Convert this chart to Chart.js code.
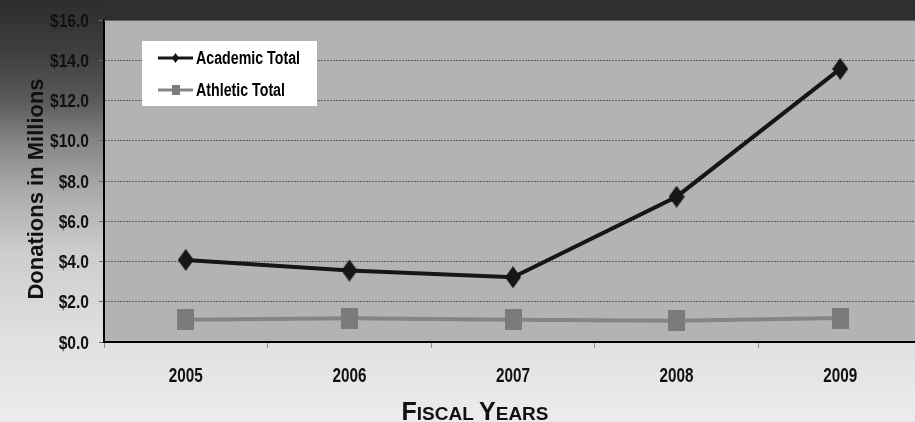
<!DOCTYPE html>
<html><head><meta charset="utf-8">
<script src="https://cdn.jsdelivr.net/npm/chart.js@4.4.1/dist/chart.umd.min.js"></script>
<style>
html,body{margin:0;padding:0;overflow:hidden;width:915px;height:422px;background:#ececec}
#wrap{position:relative;width:922px;height:422px}
canvas{display:block}
</style></head>
<body><div id="wrap"><canvas id="c" width="922" height="422"></canvas></div>
<script>
const years = ['2005', '2006', '2007', '2008', '2009'];
const academicTotal = [4.08, 3.55, 3.22, 7.22, 13.57];
const athleticTotal = [1.1, 1.18, 1.1, 1.05, 1.19];
const seriesNames = ['Academic Total', 'Athletic Total'];
const yAxisTitle = 'Donations in Millions';
const xAxisTitle = 'Fiscal Years';

const SANS = "'Liberation Sans',Arial,sans-serif";

function makeMarker(w, h, color, shape) {
  const c = document.createElement('canvas');
  c.width = w; c.height = h;
  const x = c.getContext('2d');
  x.fillStyle = color;
  if (shape === 'diamond') {
    x.beginPath(); x.moveTo(w / 2, 0); x.lineTo(w, h / 2); x.lineTo(w / 2, h); x.lineTo(0, h / 2); x.closePath(); x.fill();
  } else {
    x.fillRect(0, 0, w, h);
  }
  return c;
}
const ACAD = '#161616', ATH = '#858585', ATH_M = '#7b7b7b';
const diamondBig = makeMarker(16, 22, ACAD, 'diamond');
const squareBig = makeMarker(17, 21, ATH_M, 'square');

// draw condensed text (squeezed horizontally by factor f)
function condText(ctx, text, x, y, f) {
  const w = ctx.measureText(text).width;
  ctx.fillText(text, x, y, w * f);
}
function factorFor(ctx, font, sample, target) {
  ctx.font = font;
  return Math.min(1, target / ctx.measureText(sample).width);
}

const bgPlugin = {
  id: 'bg',
  beforeDraw(chart) {
    const { ctx, width, height, chartArea: a } = chart;
    const g = ctx.createLinearGradient(0, 0, 0, height);
    g.addColorStop(0, '#2d2d2d');
    g.addColorStop(0.12, '#3e3e3e');
    g.addColorStop(0.24, '#5a5a5a');
    g.addColorStop(0.33, '#838383');
    g.addColorStop(0.45, '#aaaaaa');
    g.addColorStop(0.6, '#cdcdcd');
    g.addColorStop(0.8, '#e0e0e0');
    g.addColorStop(1, '#ececec');
    ctx.save();
    ctx.fillStyle = g; ctx.fillRect(0, 0, width, height);
    ctx.fillStyle = '#2f2f2f'; ctx.fillRect(a.left, 0, width - a.left, a.top);
    ctx.fillStyle = '#b3b3b3'; ctx.fillRect(a.left, a.top, a.right - a.left, a.bottom - a.top);
    ctx.restore();
  },
  afterDraw(chart) {
    const { ctx, chartArea: a } = chart;
    const ds = chart.data.datasets;
    const xs = chart.scales.x, ys = chart.scales.y;
    ctx.save();
    // top edge
    ctx.strokeStyle = '#666'; ctx.lineWidth = 1;
    ctx.beginPath(); ctx.moveTo(a.left, a.top + 0.5); ctx.lineTo(a.right, a.top + 0.5); ctx.stroke();

    // y tick labels (condensed bold)
    ctx.fillStyle = '#111';
    const yFont = 'bold 19px ' + SANS;
    const fy = factorFor(ctx, yFont, '$16.0', 39);
    ctx.font = yFont; ctx.textAlign = 'right'; ctx.textBaseline = 'alphabetic';
    ys.ticks.forEach((t, i) => {
      condText(ctx, t.label, a.left - 15, ys.getPixelForTick(i) + 6.5, fy);
    });
    // x tick labels
    const xFont = 'bold 20px ' + SANS;
    const fx = factorFor(ctx, xFont, '2009', 34);
    ctx.font = xFont; ctx.textAlign = 'center';
    xs.ticks.forEach((t, i) => {
      condText(ctx, xs.getLabelForValue(t.value), xs.getPixelForTick(i), a.bottom + 40, fx);
    });

    // legend
    ctx.fillStyle = '#ffffff';
    ctx.fillRect(142, 41, 175, 65);
    const rows = [58, 90];
    const lFont = 'bold 18px ' + SANS;
    const fl = factorFor(ctx, lFont, 'Academic Total', 104);
    ds.forEach((d, i) => {
      const y = rows[i];
      ctx.strokeStyle = d.borderColor; ctx.lineWidth = 3;
      ctx.beginPath(); ctx.moveTo(158, y); ctx.lineTo(193, y); ctx.stroke();
      ctx.fillStyle = d.backgroundColor;
      if (i === 0) {
        ctx.beginPath(); ctx.moveTo(175.5, y - 5); ctx.lineTo(179, y); ctx.lineTo(175.5, y + 5); ctx.lineTo(172, y); ctx.closePath(); ctx.fill();
      } else {
        ctx.fillRect(172, y - 5, 8, 10);
      }
      ctx.fillStyle = '#000';
      ctx.font = lFont;
      ctx.textBaseline = 'alphabetic'; ctx.textAlign = 'left';
      condText(ctx, d.label, 196, y + 6, fl);
    });
    // y title
    ctx.translate(37, 189);
    ctx.rotate(-Math.PI / 2);
    ctx.fillStyle = '#111';
    ctx.font = 'bold 22px ' + SANS;
    ctx.textAlign = 'center'; ctx.textBaseline = 'middle';
    ctx.fillText(yAxisTitle, 0, 0);
    ctx.setTransform(1, 0, 0, 1, 0, 0);
    // x title in small caps
    const words = xAxisTitle.toUpperCase().split(' ');
    const parts = [];
    words.forEach((w, wi) => {
      parts.push({ t: w[0], s: 25 });
      parts.push({ t: w.slice(1) + (wi < words.length - 1 ? ' ' : ''), s: 19 });
    });
    let total = 0;
    parts.forEach(p => { ctx.font = 'bold ' + p.s + 'px ' + SANS; p.w = ctx.measureText(p.t).width; total += p.w; });
    let x = 475 - total / 2;
    ctx.textBaseline = 'alphabetic'; ctx.textAlign = 'left'; ctx.fillStyle = '#111';
    parts.forEach(p => { ctx.font = 'bold ' + p.s + 'px ' + SANS; ctx.fillText(p.t, x, 420); x += p.w; });
    ctx.restore();
  }
};

new Chart(document.getElementById('c'), {
  type: 'line',
  data: {
    labels: years,
    datasets: [
      { label: seriesNames[0], data: academicTotal, borderColor: ACAD, backgroundColor: ACAD, borderWidth: 4,
        pointStyle: diamondBig, pointRadius: 10, tension: 0, fill: false },
      { label: seriesNames[1], data: athleticTotal, borderColor: ATH, backgroundColor: ATH_M, borderWidth: 4,
        pointStyle: squareBig, pointRadius: 10, tension: 0, fill: false }
    ]
  },
  options: {
    responsive: false,
    animation: false,
    layout: { autoPadding: false, padding: { top: 20, left: 0, right: 0, bottom: 0 } },
    plugins: { legend: { display: false }, tooltip: { enabled: false }, title: { display: false } },
    scales: {
      x: {
        offset: true,
        grid: { offset: true, drawOnChartArea: false, drawTicks: true, tickLength: 6, color: '#8c8c8c', lineWidth: 1 },
        border: { display: true, color: '#000', width: 2 },
        ticks: { display: false, autoSkip: false, maxRotation: 0 },
        afterFit(s) { s.height = 80; s.paddingLeft = 0; s.paddingRight = 0; }
      },
      y: {
        min: 0, max: 16,
        grid: { color: '#5e5e5e', lineWidth: 1, tickLength: 5, tickColor: '#6a6a6a', tickBorderDash: [] },
        border: { display: true, color: '#000', width: 2, dash: [2, 1] },
        ticks: { display: false, stepSize: 2, callback: v => '$' + Number(v).toFixed(1) },
        afterFit(s) { s.width = 104; s.paddingTop = 0; s.paddingBottom = 0; }
      }
    }
  },
  plugins: [bgPlugin]
});
</script>
</body></html>
